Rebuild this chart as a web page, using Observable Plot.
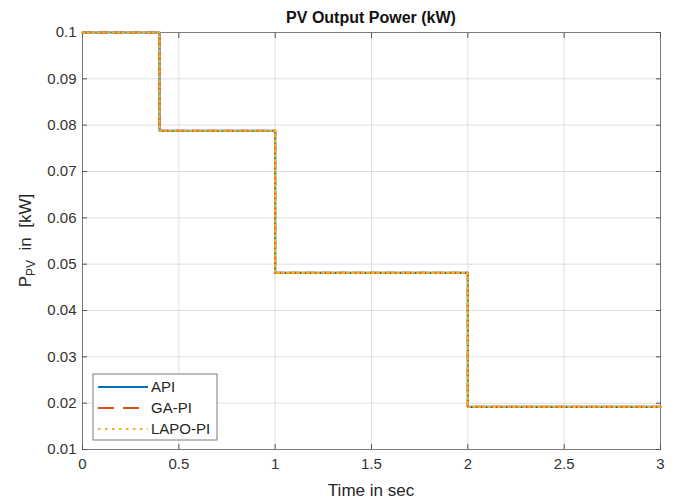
<!DOCTYPE html>
<html>
<head>
<meta charset="utf-8">
<script src="https://cdn.jsdelivr.net/npm/d3@7"></script>
<script src="https://cdn.jsdelivr.net/npm/@observablehq/plot@0.6"></script>
<style>
  body { margin: 0; background: #fff; }
  #chart { position: relative; width: 677px; height: 503px; }
</style>
</head>
<body>
<div id="chart"></div>
<script>
const times = [0, 0.4, 1, 2, 3];
const apiValues  = [0.1, 0.0788, 0.0481, 0.0192, 0.0192];
const gaValues   = [0.1, 0.0788, 0.0481, 0.0192, 0.0192];
const lapoValues = [0.1, 0.0788, 0.0481, 0.0192, 0.0192];
const seriesNames = ["API", "GA-PI", "LAPO-PI"];
const xTicks = [0, 0.5, 1, 1.5, 2, 2.5, 3];
const yTicks = [0.01, 0.02, 0.03, 0.04, 0.05, 0.06, 0.07, 0.08, 0.09, 0.1];

const colors = {"API": "#0072BD", "GA-PI": "#D95319", "LAPO-PI": "#EDB120"};
const dashes = {"API": null, "GA-PI": "9,7", "LAPO-PI": "2,3"};

const rows = (vals, name) => times.map((t, i) => ({t, v: vals[i], s: name}));
const api = rows(apiValues, "API");
const ga = rows(gaValues, "GA-PI");
const lapo = rows(lapoValues, "LAPO-PI");

const font = "'Liberation Sans', Arial, Helvetica, sans-serif";
const W = 677, H = 503, mL = 82, mR = 17, mT = 32, mB = 54;

const plot = Plot.plot({
  width: W, height: H,
  marginLeft: mL, marginRight: mR, marginTop: mT, marginBottom: mB,
  style: {fontFamily: font, fontSize: "14px", color: "#262626", background: "#fff"},
  x: {domain: [0, 3], label: null},
  y: {domain: [0.01, 0.1], label: null},
  marks: [
    Plot.gridX(xTicks, {stroke: "#dfdfdf", strokeOpacity: 1}),
    Plot.gridY(yTicks, {stroke: "#dfdfdf", strokeOpacity: 1}),
    Plot.frame({stroke: "#7a7a7a", strokeWidth: 1}),
    Plot.axisX(xTicks, {tickSize: -5, stroke: "#555", tickPadding: 14, tickFormat: d => String(+d.toFixed(2)), fill: "#333", fontSize: 15}),
    Plot.axisX(xTicks, {anchor: "top", tickSize: -5, stroke: "#555", tickFormat: () => ""}),
    Plot.axisY(yTicks, {tickSize: -5, stroke: "#555", tickPadding: 11, tickFormat: d => String(+d.toFixed(2)), fill: "#333", fontSize: 15}),
    Plot.axisY(yTicks, {anchor: "right", tickSize: -5, stroke: "#555", tickFormat: () => ""}),
    Plot.line(api, {x: "t", y: "v", curve: "step-after", stroke: colors["API"], strokeWidth: 2.2}),
    Plot.line(ga, {x: "t", y: "v", curve: "step-after", stroke: colors["GA-PI"], strokeWidth: 2.2, strokeDasharray: dashes["GA-PI"]}),
    Plot.line(lapo, {x: "t", y: "v", curve: "step-after", stroke: colors["LAPO-PI"], strokeWidth: 2.2, strokeDasharray: dashes["LAPO-PI"]})
  ]
});
document.getElementById("chart").appendChild(plot);

const svg = d3.select(plot);
const cx = mL + (W - mL - mR) / 2;

svg.append("text")
  .attr("x", cx).attr("y", 23)
  .attr("text-anchor", "middle")
  .attr("font-family", font).attr("font-size", 16).attr("font-weight", "bold")
  .attr("fill", "#111")
  .text("PV Output Power (kW)");

svg.append("text")
  .attr("x", cx).attr("y", 496)
  .attr("text-anchor", "middle")
  .attr("font-family", font).attr("font-size", 17)
  .attr("fill", "#262626")
  .text("Time in sec");

const yl = svg.append("text")
  .attr("transform", `translate(31, ${(mT + H - mB) / 2}) rotate(-90)`)
  .attr("text-anchor", "middle")
  .attr("font-family", font).attr("font-size", 17)
  .attr("fill", "#262626")
  .attr("xml:space", "preserve");
yl.append("tspan").text("P");
yl.append("tspan").attr("font-size", 12).attr("dy", 4).text("PV");
yl.append("tspan").attr("dy", -4).text("  in  [kW]");

// legend
const lx = 93, ly = 374, lw = 124, lh = 66;
const lg = svg.append("g");
lg.append("rect").attr("x", lx).attr("y", ly).attr("width", lw).attr("height", lh)
  .attr("fill", "#fff").attr("stroke", "#7a7a7a").attr("stroke-width", 1);
const legendDash = {"API": null, "GA-PI": "16,9", "LAPO-PI": "2.5,4.5"};
seriesNames.forEach((name, i) => {
  const yy = ly + 13 + i * 21;
  lg.append("line").attr("x1", lx + 5).attr("x2", lx + 55).attr("y1", yy).attr("y2", yy)
    .attr("stroke", colors[name]).attr("stroke-width", 2.2)
    .attr("stroke-dasharray", legendDash[name]);
  lg.append("text").attr("x", lx + 58).attr("y", yy + 5)
    .attr("text-anchor", "start")
    .attr("font-family", font).attr("font-size", 15).attr("fill", "#262626")
    .text(name);
});
</script>
</body>
</html>
